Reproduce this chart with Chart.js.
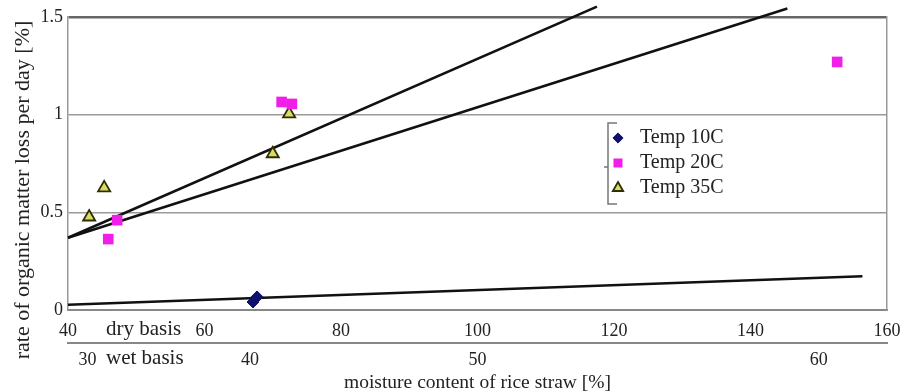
<!DOCTYPE html>
<html>
<head>
<meta charset="utf-8">
<script src="https://cdn.jsdelivr.net/npm/chart.js@4.4.0/dist/chart.umd.min.js"></script>
<style>
  html, body { margin: 0; padding: 0; background: #fff; }
  #contenedor { width: 905px; height: 392px; }
</style>
</head>
<body>
<div id="contenedor"><canvas id="grafico"></canvas></div>
<script>
// Datos: humedad base seca [%] y perdida diaria [%]
const temp10X = [67.1, 67.7];
const temp10Y = [0.041, 0.067];
const temp20X = [45.9, 47.2, 71.3, 72.8, 152.7];
const temp20Y = [0.363, 0.46, 1.065, 1.055, 1.27];
const temp35X = [43.1, 45.3, 70.0, 72.4];
const temp35Y = [0.476, 0.625, 0.80, 1.004];

// Rectas de tendencia (extremos de cada recta)
const recta1X = [40, 117.5];
const recta1Y = [0.37, 1.553];
const recta2X = [40, 145.4];
const recta2Y = [0.37, 1.544];
const recta3X = [40, 156.4];
const recta3Y = [0.027, 0.173];

// Etiquetas de los ejes
const ticksSeco = [40, 60, 80, 100, 120, 140, 160];
const ticksHumedo = [30, 40, 50, 60];
const ticksY = [0, 0.5, 1, 1.5];

const leyenda = ['Temp 10C', 'Temp 20C', 'Temp 35C'];

const fuente = '"Liberation Serif", "Times New Roman", serif';
const colorTexto = '#222';

function aPuntos(xs, ys) {
  return xs.map((x, i) => ({ x: x, y: ys[i] }));
}

// base humeda -> base seca, para ubicar las marcas del segundo eje
function humedoASeco(w) {
  return w / (100 - w) * 100;
}

const estiloPuntos = [
  { pointStyle: 'rectRot', radius: 6, backgroundColor: '#10106e', borderColor: '#10106e', borderWidth: 1 },
  { pointStyle: 'rect', radius: 7.5, backgroundColor: '#f01ee8', borderColor: '#f01ee8', borderWidth: 0 },
  { pointStyle: 'triangle', radius: 7, backgroundColor: '#d8dc60', borderColor: '#2e2e00', borderWidth: 1.8 }
];

function datasetPuntos(xs, ys, est) {
  return {
    label: '',
    data: aPuntos(xs, ys),
    pointStyle: est.pointStyle,
    pointRadius: est.radius,
    pointBackgroundColor: est.backgroundColor,
    pointBorderColor: est.borderColor,
    pointBorderWidth: est.borderWidth,
    showLine: false
  };
}

function datasetRecta(xs, ys) {
  return {
    label: '',
    data: aPuntos(xs, ys),
    showLine: true,
    borderColor: '#111',
    borderWidth: 2.6,
    pointRadius: 0,
    clip: false
  };
}

// el eje X no debe reservar margen extra por las etiquetas de los extremos
function ajustarEjeX(scale, alto) {
  scale.height = alto;
  scale.paddingLeft = 0;
  scale.paddingRight = 0;
}

// Textos extra: titulo del eje Y, "dry basis" / "wet basis" y leyenda
const textosExtra = {
  id: 'textosExtra',
  afterDraw(chart) {
    const ctx = chart.ctx;
    ctx.save();
    ctx.fillStyle = colorTexto;

    // titulo vertical
    ctx.save();
    ctx.translate(29, 190);
    ctx.rotate(-Math.PI / 2);
    ctx.font = '22px ' + fuente;
    ctx.textAlign = 'center';
    ctx.textBaseline = 'alphabetic';
    ctx.fillText('rate of organic matter loss per day [%]', 0, 0);
    ctx.restore();

    ctx.font = '21px ' + fuente;
    ctx.textAlign = 'left';
    ctx.textBaseline = 'middle';
    ctx.fillText('dry basis', 106, 329);
    ctx.fillText('wet basis', 106, 358);

    // leyenda con corchete
    ctx.strokeStyle = '#777';
    ctx.lineWidth = 1.5;
    ctx.beginPath();
    ctx.moveTo(617, 123);
    ctx.lineTo(608, 123);
    ctx.lineTo(608, 204);
    ctx.lineTo(617, 204);
    ctx.moveTo(604, 167);
    ctx.lineTo(608, 167);
    ctx.stroke();

    ctx.font = '20px ' + fuente;
    leyenda.forEach((txt, i) => {
      const y = 138 + i * 25;
      const est = estiloPuntos[i];
      ctx.fillStyle = est.backgroundColor;
      ctx.strokeStyle = est.borderColor;
      ctx.lineWidth = est.borderWidth;
      Chart.helpers.drawPoint(ctx, {
        pointStyle: est.pointStyle,
        radius: est.radius * 0.85,
        rotation: 0,
        borderWidth: est.borderWidth
      }, 618, y);
      ctx.fillStyle = colorTexto;
      ctx.fillText(txt, 640, y);
    });
    ctx.restore();
  }
};

const ctx = document.getElementById('grafico').getContext('2d');
window.grafico = new Chart(ctx, {
  type: 'scatter',
  data: {
    datasets: [
      datasetPuntos(temp10X, temp10Y, estiloPuntos[0]),
      datasetPuntos(temp20X, temp20Y, estiloPuntos[1]),
      datasetPuntos(temp35X, temp35Y, estiloPuntos[2]),
      datasetRecta(recta1X, recta1Y),
      datasetRecta(recta2X, recta2Y),
      datasetRecta(recta3X, recta3Y)
    ]
  },
  options: {
    responsive: true,
    maintainAspectRatio: false,
    animation: false,
    layout: { padding: { top: 17, right: 18, bottom: 0, left: 0 } },
    plugins: {
      legend: { display: false },
      tooltip: { enabled: false }
    },
    scales: {
      x: {
        type: 'linear',
        position: 'bottom',
        min: 40,
        max: 160,
        afterBuildTicks: scale => { scale.ticks = ticksSeco.map(v => ({ value: v })); },
        afterFit: scale => ajustarEjeX(scale, 33),
        grid: { display: false, drawTicks: false },
        border: { display: true, color: '#888', width: 2 },
        ticks: {
          autoSkip: false,
          maxRotation: 0,
          padding: 10,
          color: colorTexto,
          font: { family: fuente, size: 18 }
        }
      },
      x2: {
        type: 'linear',
        position: 'bottom',
        min: 40,
        max: 160,
        afterBuildTicks: scale => { scale.ticks = ticksHumedo.map(w => ({ value: humedoASeco(w) })); },
        afterFit: scale => ajustarEjeX(scale, 49),
        grid: { display: false, drawTicks: false },
        border: { display: true, color: '#888', width: 2 },
        ticks: {
          autoSkip: false,
          maxRotation: 0,
          padding: 6,
          color: colorTexto,
          font: { family: fuente, size: 18 },
          callback: (v, i) => ticksHumedo[i]
        },
        title: {
          display: true,
          text: 'moisture content of rice straw [%]',
          color: colorTexto,
          font: { family: fuente, size: 19.5 },
          padding: { top: 0, bottom: -3 }
        }
      },
      y: {
        min: 0,
        max: 1.5,
        afterBuildTicks: scale => { scale.ticks = ticksY.map(v => ({ value: v })); },
        afterFit: scale => { scale.width = 68; },
        grid: {
          drawTicks: false,
          color: c => (c.tick && c.tick.value === 1.5) ? '#666' : '#9a9a9a',
          lineWidth: c => (c.tick && c.tick.value === 1.5) ? 2.5 : 1.5
        },
        border: { display: true, color: '#999', width: 1.5 },
        ticks: {
          padding: 5,
          color: colorTexto,
          font: { family: fuente, size: 18 },
          callback: v => String(v)
        }
      },
      y2: {
        position: 'right',
        min: 0,
        max: 1.5,
        afterFit: scale => { scale.width = 0; },
        grid: { display: false, drawTicks: false },
        border: { display: true, color: '#999', width: 1.5 },
        ticks: { display: false }
      }
    }
  },
  plugins: [textosExtra]
});
</script>
</body>
</html>
